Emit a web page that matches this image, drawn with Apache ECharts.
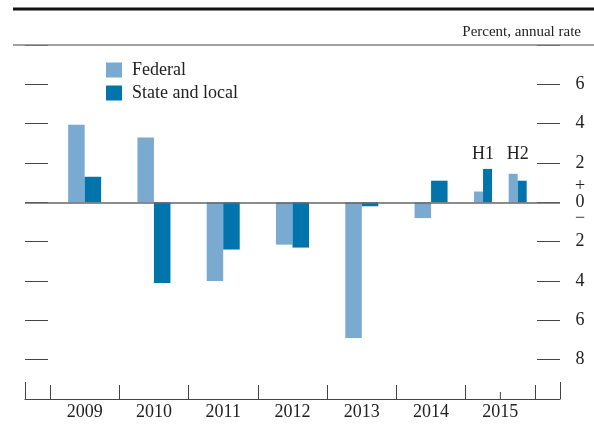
<!DOCTYPE html>
<html>
<head>
<meta charset="utf-8">
<script src="https://cdn.jsdelivr.net/npm/echarts@6/dist/echarts.min.js"></script>
<style>
  html, body { margin: 0; padding: 0; background: #fff; }
  #chart { width: 594px; height: 428px; }
</style>
</head>
<body>
<div id="chart"></div>
<script>
// ---- data ----
const years = ['2009', '2010', '2011', '2012', '2013', '2014', '2015'];
const periodStart = [2009, 2010, 2011, 2012, 2013, 2014, 2015, 2015.5];
const periodEnd   = [2010, 2011, 2012, 2013, 2014, 2015, 2015.5, 2016];
const periodTags  = ['', '', '', '', '', '', 'H1', 'H2'];
const federal     = [3.95, 3.3, -4.0, -2.15, -6.9, -0.8, 0.55, 1.45];
const stateLocal  = [1.3, -4.1, -2.4, -2.3, -0.2, 1.1, 1.7, 1.1];
const yMin = -10, yMax = 8, yStep = 2;
const unitLabel = 'Percent, annual rate';
const seriesNames = ['Federal', 'State and local'];

// ---- style / layout ----
const FONT = '"Liberation Serif", "Times New Roman", serif';
const COL_FED = '#7aaad0';
const COL_SL = '#0074ab';
const TEXT = '#222';
const AXIS = '#444';
const W = 594;
const frameL = 25, frameR = 560, innerL = 50, innerR = 535;
const gridTop = 45, gridBottom = 29;
const yearPx = (innerR - innerL) / years.length;
const padYears = (innerL - frameL) / yearPx;
const firstYear = periodStart[0];
const lastYear = periodEnd[periodEnd.length - 1];

function rows(values) {
  return values.map((v, i) => [periodStart[i], periodEnd[i], v]);
}

function makeRender(side) {
  return function (params, api) {
    const s = api.value(0), e = api.value(1), v = api.value(2);
    const c0 = api.coord([s, 0]);
    const c1 = api.coord([e, 0]);
    const cv = api.coord([s, v]);
    const len = c1[0] - c0[0];
    const frac = (e - s) < 1 ? 0.26 : 0.238;
    const w = len * frac;
    const cx = (c0[0] + c1[0]) / 2;
    const x = side < 0 ? cx - w : cx;
    const children = [{
      type: 'rect',
      shape: { x: x, y: Math.min(c0[1], cv[1]), width: w, height: Math.abs(cv[1] - c0[1]) },
      style: { fill: api.visual('color') }
    }];
    if (side < 0) {
      const tag = periodTags[params.dataIndex];
      if (tag) {
        const ty = api.coord([s, 2.43])[1];
        children.push({
          type: 'text',
          style: { text: tag, x: cx, y: ty, align: 'center', verticalAlign: 'middle',
                   font: '18px ' + FONT, fill: TEXT }
        });
      }
      if (s % 1 !== 0) {
        const bottom = params.coordSys.y + params.coordSys.height;
        children.push({
          type: 'line',
          shape: { x1: c0[0], y1: bottom, x2: c0[0], y2: bottom - 7 },
          style: { stroke: AXIS, lineWidth: 1 }
        });
      }
    }
    return { type: 'group', children: children };
  };
}

const chart = echarts.init(document.getElementById('chart'), null, { renderer: 'canvas' });

const yAxisCommon = {
  type: 'value', gridIndex: 0, min: yMin, max: yMax, interval: yStep,
  axisLine: { show: false, onZero: false },
  axisTick: { show: true, inside: true, length: 23, lineStyle: { color: AXIS, width: 1 } },
  splitLine: { show: false }
};

chart.setOption({
  animation: false,
  backgroundColor: '#fff',
  color: [COL_FED, COL_SL],
  textStyle: { fontFamily: FONT },
  title: {
    text: unitLabel, right: W - 586, top: 20,
    textStyle: { fontFamily: FONT, fontSize: 15, fontWeight: 'normal', color: TEXT }
  },
  graphic: [
    { type: 'line', zlevel: 1, z: 100, shape: { x1: 13, y1: 9, x2: W, y2: 9 }, style: { stroke: '#111', lineWidth: 3 } },
    { type: 'line', zlevel: 1, z: 100, shape: { x1: 13, y1: 45, x2: W, y2: 45 }, style: { stroke: '#808080', lineWidth: 1.6 } }
  ],
  legend: {
    orient: 'vertical', left: 101, top: 56, itemGap: 5,
    itemWidth: 16, itemHeight: 15, icon: 'rect',
    data: seriesNames,
    textStyle: { fontFamily: FONT, fontSize: 18, color: TEXT, padding: [0, 0, 0, 5] }
  },
  grid: [
    { left: frameL, right: W - frameR, top: gridTop, bottom: gridBottom },
    { left: innerL, right: W - innerR, top: gridTop, bottom: gridBottom }
  ],
  xAxis: [
    { // frame
      type: 'value', gridIndex: 0, min: 0, max: 1, interval: 1, position: 'bottom',
      axisLine: { show: true, onZero: false, lineStyle: { color: AXIS, width: 1.2 } },
      axisTick: { show: true, inside: true, length: 17, lineStyle: { color: AXIS, width: 1 } },
      axisLabel: { show: false }, splitLine: { show: false }
    },
    { // bar positioning
      type: 'value', gridIndex: 0, min: firstYear - padYears, max: lastYear + padYears,
      show: false, axisLine: { onZero: false }
    },
    { // year labels
      type: 'category', gridIndex: 1, data: years, boundaryGap: true, position: 'bottom',
      axisLine: { show: false, onZero: false },
      axisTick: { show: true, inside: true, length: 14, alignWithLabel: false,
                  lineStyle: { color: AXIS, width: 1 } },
      axisLabel: { fontFamily: FONT, fontSize: 18, color: TEXT, margin: 4 },
      splitLine: { show: false }
    }
  ],
  yAxis: [
    Object.assign({}, yAxisCommon, { position: 'left', axisLabel: { show: false } }),
    Object.assign({}, yAxisCommon, {
      position: 'right',
      axisLabel: {
        show: true, margin: 20, align: 'center',
        fontFamily: FONT, fontSize: 18, color: TEXT,
        formatter: function (v) {
          if (v <= yMin || v >= yMax) return '';
          if (v === 0) return '{pm|+}\n{z|0}\n{pm|\u2212}';
          return String(Math.abs(v));
        },
        rich: {
          pm: { fontFamily: FONT, fontSize: 18, lineHeight: 15, color: TEXT, align: 'center' },
          z: { fontFamily: FONT, fontSize: 18, lineHeight: 17, color: TEXT, align: 'center' }
        }
      }
    }),
    { type: 'value', gridIndex: 1, min: yMin, max: yMax, show: false, axisLine: { onZero: false } }
  ],
  series: [
    {
      name: seriesNames[0], type: 'custom', xAxisIndex: 1, yAxisIndex: 0,
      itemStyle: { color: COL_FED },
      encode: { x: [0, 1], y: 2 },
      renderItem: makeRender(-1),
      data: rows(federal),
      z: 3,
      markLine: {
        silent: true, symbol: 'none', label: { show: false },
        lineStyle: { color: '#666', width: 1.5, type: 'solid' },
        data: [{ yAxis: 0 }]
      }
    },
    {
      name: seriesNames[1], type: 'custom', xAxisIndex: 1, yAxisIndex: 0,
      itemStyle: { color: COL_SL },
      encode: { x: [0, 1], y: 2 },
      renderItem: makeRender(1),
      data: rows(stateLocal),
      z: 3
    }
  ]
});
</script>
</body>
</html>
